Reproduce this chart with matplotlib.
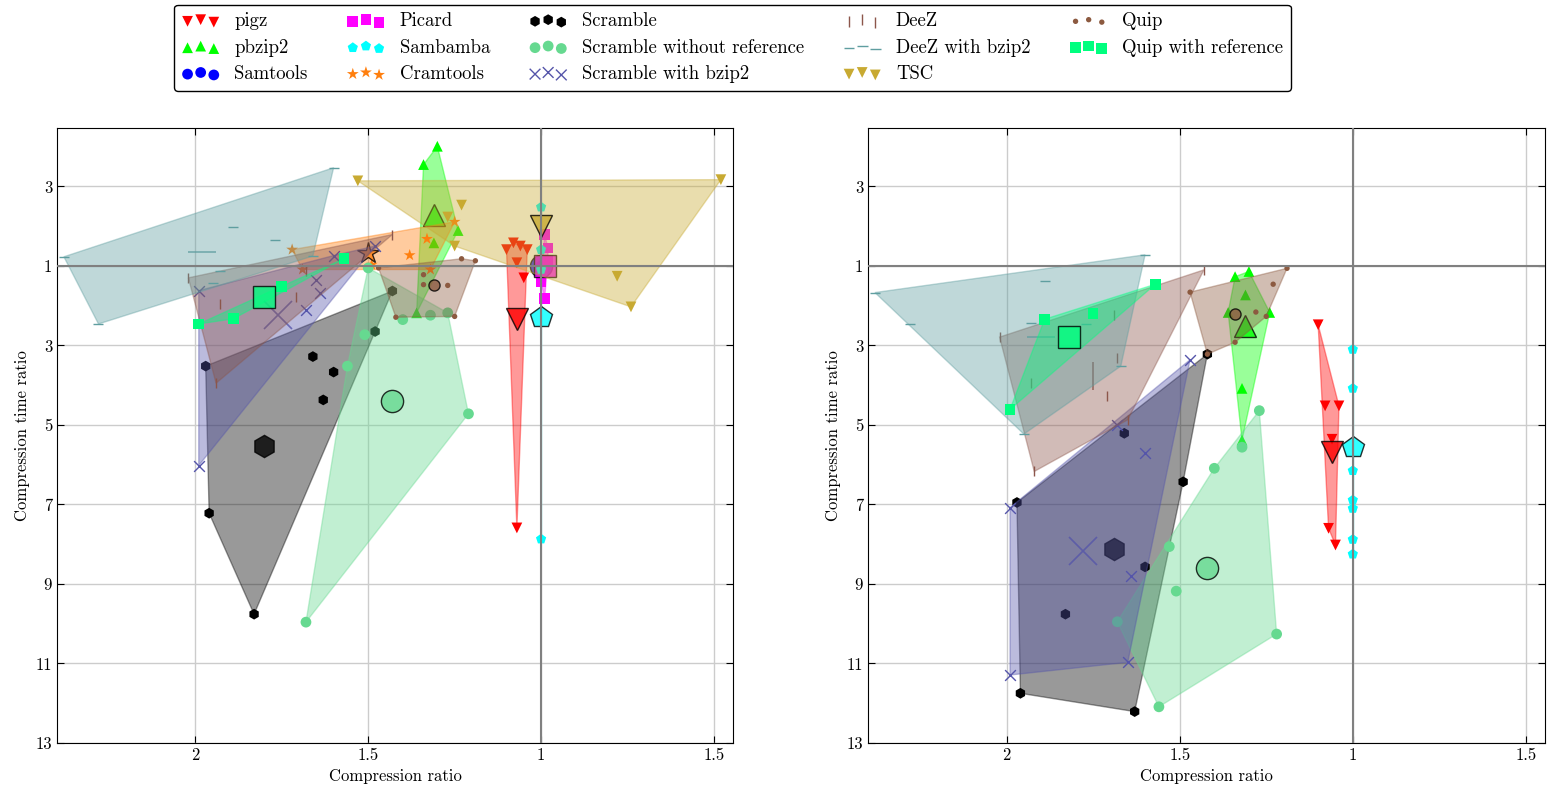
import numpy as np
import matplotlib
matplotlib.use("Agg")
from matplotlib import pyplot as plt
from matplotlib.patches import Polygon

plt.rcParams["font.family"] = ["cmr10", "DejaVu Serif"]
plt.rcParams["mathtext.fontset"] = "cm"
plt.rcParams["axes.unicode_minus"] = False

# axis units: x = 0 at ratio 1, -1 at ratio 2 (left), +0.5 at "1.5" (right)
#             y = 1 at ratio 1, grows downward (slower), -1 at "3" above
tools = ["pigz", "pbzip2", "Samtools", "Picard", "Sambamba", "Cramtools",
         "Scramble", "Scramble without reference", "Scramble with bzip2",
         "DeeZ", "DeeZ with bzip2", "TSC", "Quip", "Quip with reference"]
markers = ["v", "^", "o", "s", "p", "*", "h", "o", "x", "|", "_", "v", ".", "s"]
colors = ["red", "lime", "blue", "magenta", "cyan", "#ff7f0e", "black",
          "#66d990", "#5555aa", "#8c564b", "#5f9ea0", "#c8aa32", "#8c5a40",
          "#00ff7f"]

# ---- left panel ----
left_pigz = [(-0.10, 0.59), (-0.08, 0.42), (-0.06, 0.50), (-0.04, 0.59),
             (-0.07, 0.92), (-0.05, 1.30), (-0.07, 7.59)]
left_pigz_mean = (-0.07, 2.33)
left_pbzip2 = [(-0.30, -2.01), (-0.34, -1.55), (-0.24, 0.11), (-0.31, 0.42),
               (-0.36, 2.18)]
left_pbzip2_mean = (-0.31, -0.28)
left_samtools = [(0.0, 1.0)]
left_samtools_mean = (0.0, 1.0)
left_picard = [(0.01, 0.21), (0.02, 0.55), (0.02, 0.87), (0.00, 1.39),
               (0.01, 1.82)]
left_picard_mean = (0.01, 0.99)
left_sambamba = [(0.0, -0.48), (0.0, 0.59), (0.0, 1.09), (0.0, 7.87)]
left_sambamba_mean = (0.0, 2.29)
left_cramtools = [(-0.72, 0.59), (-0.69, 1.09), (-0.49, 0.97), (-0.38, 0.73),
                  (-0.33, 0.32), (-0.25, -0.11), (-0.32, 1.09)]
left_cramtools_mean = (-0.50, 0.67)
left_scramble = [(-0.97, 3.52), (-0.66, 3.28), (-0.60, 3.67), (-0.63, 4.37),
                 (-0.48, 2.65), (-0.96, 7.22), (-0.83, 9.76), (-0.43, 1.63)]
left_scramble_mean = (-0.80, 5.53)
left_scramble_noref = [(-0.68, 9.96), (-0.21, 4.72), (-0.56, 3.52), (-0.51, 2.73),
                       (-0.40, 2.35), (-0.32, 2.24), (-0.27, 2.18), (-0.50, 1.05)]
left_scramble_noref_mean = (-0.43, 4.41)
left_scramble_bzip2 = [(-0.99, 1.62), (-0.65, 1.36), (-0.64, 1.68), (-0.68, 2.12),
                       (-0.60, 0.74), (-0.48, 0.50), (-0.99, 6.02)]
left_scramble_bzip2_mean = (-0.76, 2.24)
left_deez = [(-1.02, 1.30), (-0.93, 1.96), (-0.71, 1.78), (-0.68, 1.12),
             (-0.43, 0.21), (-0.94, 3.95)]
left_deez_mean = None
left_deez_bzip2 = [(-1.38, 0.77), (-0.60, -1.47), (-1.28, 2.46), (-0.89, 0.02),
                   (-0.77, 0.35), (-0.93, 1.13), (-0.95, 1.43), (-0.66, 0.75)]
left_deez_bzip2_mean = (-0.98, 0.65)
left_tsc = [(-0.53, -1.14), (0.52, -1.17), (0.26, 2.03), (0.22, 1.26),
            (-0.23, -0.53), (-0.27, -0.23), (-0.25, 0.50)]
left_tsc_mean = (0.0, 0.0)
left_quip = [(-0.23, 0.82), (-0.19, 0.87), (-0.34, 1.22), (-0.34, 1.47),
             (-0.27, 1.49), (-0.25, 2.27), (-0.42, 2.29), (-0.47, 1.05)]
left_quip_mean = (-0.31, 1.47)
left_quip_ref = [(-0.99, 2.46), (-0.89, 2.33), (-0.75, 1.51), (-0.57, 0.82)]
left_quip_ref_mean = (-0.80, 1.79)

# ---- right panel ----
right_pigz = [(-0.10, 2.48), (-0.08, 4.52), (-0.04, 4.52), (-0.06, 5.36),
              (-0.07, 7.60), (-0.05, 8.02)]
right_pigz_mean = (-0.06, 5.67)
right_pbzip2 = [(-0.34, 1.27), (-0.30, 1.14), (-0.31, 1.73), (-0.36, 2.17),
                (-0.24, 2.17), (-0.32, 4.08), (-0.32, 5.38)]
right_pbzip2_mean = (-0.31, 2.51)
right_sambamba = [(0.0, 3.10), (0.0, 4.08), (0.0, 6.15), (0.0, 6.89),
                  (0.0, 7.10), (0.0, 7.88), (0.0, 8.25)]
right_sambamba_mean = (0.0, 5.55)
right_scramble = [(-0.97, 6.95), (-0.96, 11.75), (-0.63, 12.21), (-0.49, 6.43),
                  (-0.60, 8.57), (-0.83, 9.76), (-0.66, 5.21), (-0.42, 3.22)]
right_scramble_mean = (-0.69, 8.13)
right_scramble_noref = [(-0.27, 4.64), (-0.32, 5.56), (-0.40, 6.09), (-0.53, 8.06),
                        (-0.51, 9.18), (-0.68, 9.95), (-0.56, 12.09), (-0.22, 10.26)]
right_scramble_noref_mean = (-0.42, 8.61)
right_scramble_bzip2 = [(-0.99, 7.08), (-0.99, 11.29), (-0.65, 10.97), (-0.64, 8.80),
                        (-0.60, 5.70), (-0.68, 5.00), (-0.47, 3.36)]
right_scramble_bzip2_mean = (-0.78, 8.17)
right_deez = [(-1.02, 2.79), (-0.43, 1.10), (-0.92, 6.17), (-0.69, 2.23),
              (-0.68, 3.32), (-0.93, 3.94), (-0.71, 4.27), (-0.65, 4.87)]
right_deez_mean = (-0.75, 3.77)
right_deez_bzip2 = [(-1.38, 1.67), (-0.60, 0.72), (-0.95, 5.23), (-0.67, 3.52),
                    (-0.89, 1.37), (-1.28, 2.46), (-0.93, 2.44), (-0.77, 2.46)]
right_deez_bzip2_mean = (-0.90, 2.79)
right_quip = [(-0.47, 1.66), (-0.19, 1.06), (-0.23, 1.46), (-0.28, 2.16),
              (-0.25, 2.27), (-0.34, 2.92), (-0.42, 3.22)]
right_quip_mean = (-0.34, 2.22)
right_quip_ref = [(-0.57, 1.46), (-0.89, 2.34), (-0.75, 2.19), (-0.99, 4.61)]
right_quip_ref_mean = (-0.82, 2.79)

xtick_pos = [-1.0, -0.5, 0.0, 0.5]
xtick_labels = ["2", "1.5", "1", "1.5"]
ytick_pos = [-1, 1, 3, 5, 7, 9, 11, 13]
ytick_labels = ["3", "1", "3", "5", "7", "9", "11", "13"]

left_data = {
    "pigz": (left_pigz, left_pigz_mean),
    "pbzip2": (left_pbzip2, left_pbzip2_mean),
    "Samtools": (left_samtools, left_samtools_mean),
    "Picard": (left_picard, left_picard_mean),
    "Sambamba": (left_sambamba, left_sambamba_mean),
    "Cramtools": (left_cramtools, left_cramtools_mean),
    "Scramble": (left_scramble, left_scramble_mean),
    "Scramble without reference": (left_scramble_noref, left_scramble_noref_mean),
    "Scramble with bzip2": (left_scramble_bzip2, left_scramble_bzip2_mean),
    "DeeZ": (left_deez, left_deez_mean),
    "DeeZ with bzip2": (left_deez_bzip2, left_deez_bzip2_mean),
    "TSC": (left_tsc, left_tsc_mean),
    "Quip": (left_quip, left_quip_mean),
    "Quip with reference": (left_quip_ref, left_quip_ref_mean),
}
right_data = {
    "pigz": (right_pigz, right_pigz_mean),
    "pbzip2": (right_pbzip2, right_pbzip2_mean),
    "Sambamba": (right_sambamba, right_sambamba_mean),
    "Scramble": (right_scramble, right_scramble_mean),
    "Scramble without reference": (right_scramble_noref, right_scramble_noref_mean),
    "Scramble with bzip2": (right_scramble_bzip2, right_scramble_bzip2_mean),
    "DeeZ": (right_deez, right_deez_mean),
    "DeeZ with bzip2": (right_deez_bzip2, right_deez_bzip2_mean),
    "Quip": (right_quip, right_quip_mean),
    "Quip with reference": (right_quip_ref, right_quip_ref_mean),
}


def convex_hull(points):
    pts = sorted(set(points))
    if len(pts) < 3:
        return pts

    def cross(o, a, b):
        return (a[0] - o[0]) * (b[1] - o[1]) - (a[1] - o[1]) * (b[0] - o[0])

    lower = []
    for p in pts:
        while len(lower) >= 2 and cross(lower[-2], lower[-1], p) <= 0:
            lower.pop()
        lower.append(p)
    upper = []
    for p in reversed(pts):
        while len(upper) >= 2 and cross(upper[-2], upper[-1], p) <= 0:
            upper.pop()
        upper.append(p)
    return lower[:-1] + upper[:-1]


def draw_panel(ax, data, with_labels):
    # everything on the same zorder so later tools cover earlier ones
    for name, marker, color in zip(tools, markers, colors):
        if name not in data:
            continue
        pts, mean = data[name]
        hull = convex_hull(pts)
        if len(hull) >= 2:
            ax.add_patch(Polygon(hull, closed=True, facecolor=color,
                                 edgecolor=color, alpha=0.4, lw=1, zorder=2))
        xs = [p[0] for p in pts]
        ys = [p[1] for p in pts]
        lined = marker in ("x", "|", "_")
        ax.scatter(xs, ys, marker=marker, s=60 if marker != "*" else 80,
                   c=color, edgecolors=color if lined else "none",
                   linewidths=1, label=name if with_labels else None, zorder=2)
        if mean is not None:
            if lined:
                ax.plot(mean[0], mean[1], marker=marker, ms=20, mew=1.2,
                        color=color, alpha=0.8, zorder=2)
            else:
                ax.plot(mean[0], mean[1], marker=marker, ms=16, mfc=color,
                        mec="black", mew=1, alpha=0.8, zorder=2)

    ax.axvline(0, color="gray", lw=1.5, zorder=3)
    ax.axhline(1, color="gray", lw=1.5, zorder=3)
    ax.set_xlim(-1.40, 0.555)
    ax.set_ylim(13, -2.47)
    ax.set_xticks(xtick_pos)
    ax.set_xticklabels(xtick_labels)
    ax.set_yticks(ytick_pos)
    ax.set_yticklabels(ytick_labels)
    ax.grid(True, color="#cccccc", lw=1, linestyle="-")
    ax.set_axisbelow(True)
    ax.tick_params(direction="in", top=True, right=True, labelsize=12, length=5)
    ax.set_xlabel("Compression ratio", fontsize=12)
    ax.set_ylabel("Compression time ratio", fontsize=12)


fig = plt.figure(figsize=(15.49, 7.90), dpi=100)
ax1 = fig.add_axes([0.0368, 0.0595, 0.4364, 0.7785])
ax2 = fig.add_axes([0.5604, 0.0595, 0.4370, 0.7785])

draw_panel(ax1, left_data, True)
draw_panel(ax2, right_data, False)

handles, labels = ax1.get_legend_handles_labels()
fig.legend(handles, labels, loc="upper center", bbox_to_anchor=(0.473, 0.994),
           ncol=5, fontsize=13.5, scatterpoints=3, fancybox=True,
           edgecolor="black", framealpha=1, columnspacing=2.1,
           handletextpad=0.8, labelspacing=0.45, borderpad=0.4,
           borderaxespad=0.0)

fig.savefig("out.png", dpi=100)
